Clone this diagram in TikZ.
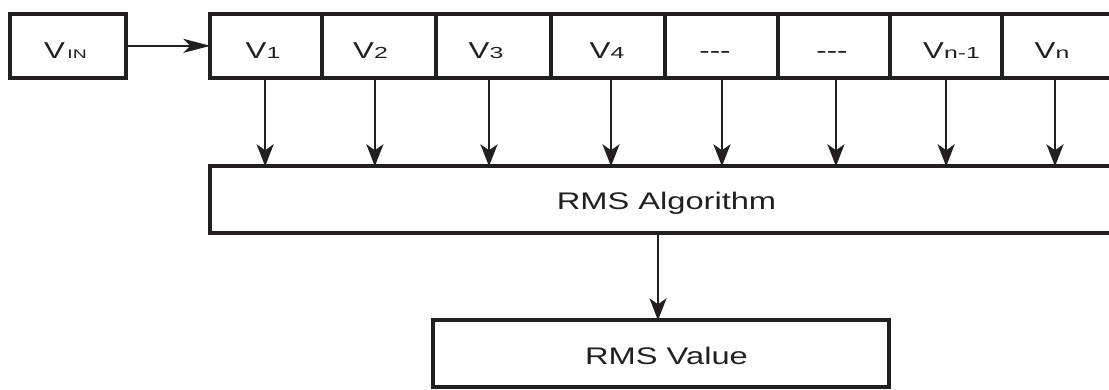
\documentclass[tikz,border=0pt]{standalone}
\usepackage{fontspec}
\setmainfont{Liberation Sans}[FakeStretch=1.36]
\newfontfamily\subfont{Liberation Sans}[FakeStretch=1.55]
\usetikzlibrary{arrows.meta}
\definecolor{ink}{RGB}{35,31,32}
\newcommand{\mainsz}{\fontsize{23}{25}\selectfont}
\newcommand{\rmssz}{\fontsize{24}{26}\selectfont}
\newcommand{\subsz}{\subfont\fontsize{16}{17}\selectfont}
\newcommand{\Vsub}[1]{{\mainsz V}{\subsz #1}}
\newcommand{\dashes}{{\mainsz -{}-{}-}}
\begin{document}
\begin{tikzpicture}[x=1pt,y=1pt,
  box/.style={draw=ink, line width=3.8pt, inner sep=0pt, outer sep=0pt, minimum height=63.7pt},
  bigbox/.style={draw=ink, line width=3.8pt, inner sep=0pt, outer sep=0pt, minimum height=67pt},
  lbl/.style={anchor=base, inner sep=0pt, outer sep=0pt, text=ink},
  arr/.style={draw=ink, line width=2.5pt, -{Stealth[length=22pt,width=17pt,inset=6pt]}},
  harr/.style={draw=ink, line width=2.4pt, -{Stealth[length=27pt,width=14pt,inset=7pt]}}]
\useasboundingbox (0,0) rectangle (1109,-389);
\clip (0,0) rectangle (1109,-389);

% input box
\node[box, minimum width=115.4pt] (vin) at (68,-45.85) {};
\node[lbl] (tvin) at (65.5,-58.3) {{\mainsz V}\kern2.5pt{\subfont\fontsize{12.5}{13}\selectfont IN}};

% sample row
\node[box, minimum width=111.7pt] (c1) at (266.15,-45.85) {};
\node[box, minimum width=113.7pt] (c2) at (378.85,-45.85) {};
\node[box, minimum width=115.6pt] (c3) at (493.5,-45.85) {};
\node[box, minimum width=114pt]   (c4) at (608.3,-45.85) {};
\node[box, minimum width=112.7pt] (c5) at (721.65,-45.85) {};
\node[box, minimum width=112.3pt] (c6) at (834.15,-45.85) {};
\node[box, minimum width=111.7pt] (c7) at (946.15,-45.85) {};
\node[box, minimum width=114pt]   (c8) at (1059,-45.85) {};

\node[lbl] (t1) at (263,-58.3) {\Vsub{1}};
\node[lbl] (t2) at (370.5,-58.3) {\Vsub{2}};
\node[lbl] (t3) at (486,-58.3) {\Vsub{3}};
\node[lbl] (t4) at (607,-58.3) {\Vsub{4}};
\node[lbl] (t5) at (715,-58.3) {\dashes};
\node[lbl] (t6) at (832,-58.3) {\dashes};
\node[lbl] (t7) at (951.5,-58.3) {\Vsub{n-1}};
\node[lbl] (t8) at (1052,-58.3) {\Vsub{n}};

% algorithm and result
\node[bigbox, minimum width=906pt] (alg) at (663,-199.8) {};
\node[lbl] (talg) at (666.5,-209.3) {\rmssz RMS Algorithm};
\node[bigbox, minimum width=456.3pt] (val) at (660.85,-353.8) {};
\node[lbl] (tval) at (666.5,-364.3) {\rmssz RMS Value};

% connectors
\draw[harr] (vin.east) -- (c1.west);
\foreach \c/\d in {c1/-1,c2/-4,c3/-4.5,c4/2.7,c5/0.3,c6/1.8,c7/0,c8/-4}
  \draw[arr] ([xshift=\d pt]\c.south) -- ([xshift=\d pt]\c.south |- alg.north);
\draw[arr] ([xshift=-5pt]alg.south) -- ([xshift=-5pt]alg.south |- val.north);
\end{tikzpicture}
\end{document}
